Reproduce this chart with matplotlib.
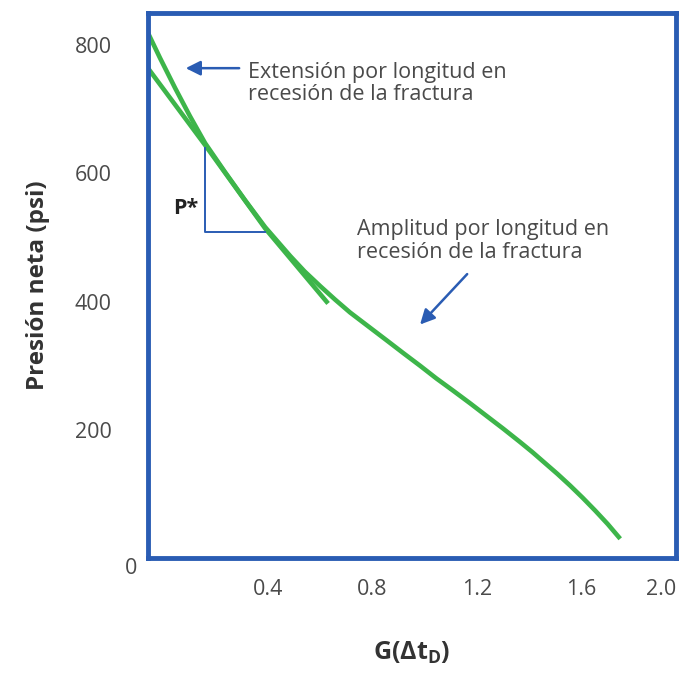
import numpy as np
import matplotlib.pyplot as plt

plt.rcParams['font.family'] = ['Open Sans', 'DejaVu Sans']
plt.rcParams['mathtext.fontset'] = 'custom'
plt.rcParams['mathtext.rm'] = 'Open Sans'
plt.rcParams['mathtext.bf'] = 'Open Sans:bold'

# curva de amplitud (larga)
g_amp = [-0.060, -0.014, 0.044, 0.101, 0.159, 0.235, 0.312, 0.389, 0.485, 0.540,
         0.600, 0.657, 0.714, 0.785, 0.856, 0.920, 0.982, 1.045, 1.109, 1.175,
         1.239, 1.300, 1.365, 1.413, 1.461, 1.509, 1.557, 1.605, 1.653, 1.701, 1.749]
p_amp = [819, 780, 733, 689, 647, 602, 558, 516, 471, 447,
         424, 403, 383, 361, 339, 319, 300, 280, 261, 241,
         221, 202, 181, 165, 148, 131, 113, 94, 74, 53, 30]

# curva de extension (corta)
g_ext = [-0.060, 0.159, 0.389, 0.630]
p_ext = [764, 644, 514, 397]

# triangulo P*
tri_g = [0.159, 0.159, 0.389]
tri_p = [639, 508, 508]

xticks = [0.4, 0.8, 1.2, 1.6, 1.963]
xtick_labels = ['0.4', '0.8', '1.2', '1.6', '2.0']
yticks = [200, 400, 600, 800]

green = '#3db54a'
blue = '#2a5cb3'
gray = '#4a4a4a'

fig = plt.figure(figsize=(6.85, 6.75), dpi=100)
ax = fig.add_axes([0.216, 0.1733, 0.771, 0.8074])

ax.plot(g_amp, p_amp, color=green, lw=3.3, solid_capstyle='butt', solid_joinstyle='round')
ax.plot(g_ext, p_ext, color=green, lw=3.3, solid_capstyle='butt', solid_joinstyle='round')
ax.plot(tri_g, tri_p, color=blue, lw=1.4)

ax.text(0.083, 545, 'P*', fontsize=15.5, fontweight='bold', color='#222222',
        ha='center', va='center')

# flechas y textos
ax.annotate('', xy=(0.074, 764), xytext=(0.300, 764),
            arrowprops=dict(arrowstyle='-|>', color=blue, lw=1.8, mutation_scale=22))
ax.text(0.322, 740, 'Extensión por longitud en\nrecesión de la fractura',
        fontsize=15.5, color=gray, ha='left', va='center', linespacing=1.1)

ax.annotate('', xy=(0.975, 361), xytext=(1.170, 446),
            arrowprops=dict(arrowstyle='-|>', color=blue, lw=1.8, mutation_scale=22))
ax.text(0.741, 494, 'Amplitud por longitud en\nrecesión de la fractura',
        fontsize=15.5, color=gray, ha='left', va='center', linespacing=1.1)

ax.set_xlim(-0.06, 1.963)
ax.set_ylim(0, 850)
ax.set_xticks(xticks, xtick_labels)
ax.set_yticks(yticks)
ax.tick_params(length=0, labelsize=15.5, labelcolor=gray)
ax.tick_params(axis='y', pad=26)
ax.tick_params(axis='x', pad=15)
ax.get_xticklabels()[-1].set_ha('right')
ax.text(-0.032, -0.02, '0', transform=ax.transAxes, fontsize=15.5, color=gray,
        ha='center', va='center')

for s in ax.spines.values():
    s.set_color(blue)
    s.set_linewidth(3.5)

ax.set_ylabel('Presión neta (psi)', fontsize=17.5, fontweight='bold', color='#333333', labelpad=18)
ax.set_xlabel(r'$\mathbf{G(\Delta t_D)}$', fontsize=18, color='#333333', labelpad=29)

fig.savefig('out.png', dpi=100)
